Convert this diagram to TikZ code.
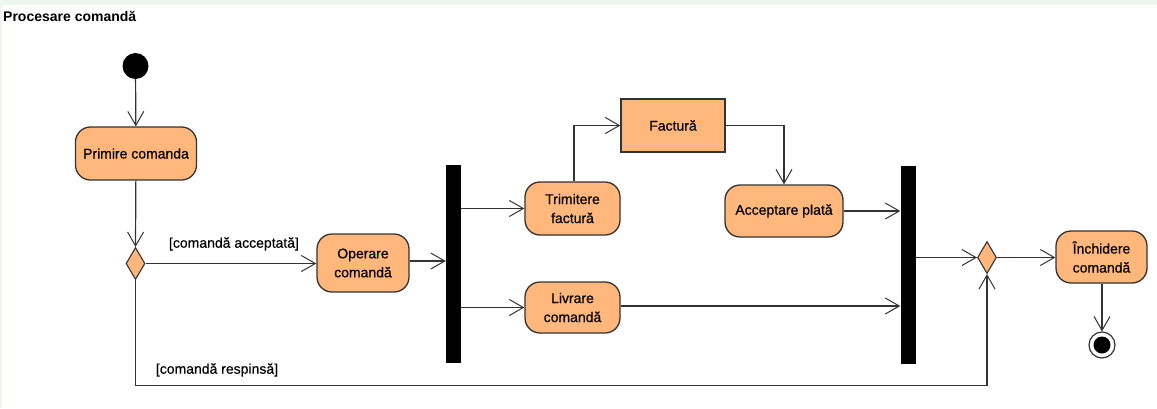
\documentclass[tikz,border=0pt]{standalone}
\usepackage{fontspec}
\setmainfont{Liberation Sans}
\newfontfamily\nodefont{Liberation Sans}[FakeBold=0.4]
\usetikzlibrary{arrows.meta,shapes.geometric}
\definecolor{actfill}{HTML}{FFB77B}
\definecolor{edgecol}{HTML}{333333}
\definecolor{framegreen}{HTML}{EDF7EE}
\tikzset{
  x=1pt, y=-1pt,
  act/.style={draw=edgecol, line width=1.3pt, fill=actfill, rounded corners=15pt,
    align=center, inner sep=0pt, font=\nodefont\fontsize{14}{19}\selectfont},
  objbox/.style={draw=edgecol, line width=1.3pt, fill=actfill, inner sep=0pt,
    font=\nodefont\fontsize{14}{19}\selectfont},
  bar/.style={fill=black, draw=none, inner sep=0pt, minimum width=15pt, minimum height=198pt},
  dec/.style={diamond, draw=edgecol, line width=1.1pt, fill=actfill, inner sep=0pt,
    minimum width=19pt, minimum height=32pt},
  flow/.style={draw=edgecol, line width=1.2pt, -{Straight Barb[length=14pt,width=16pt,line width=1pt]}},
  guard/.style={inner sep=0pt, font=\nodefont\fontsize{14}{17}\selectfont}
}
\begin{document}
\begin{tikzpicture}
\useasboundingbox (0,0) rectangle (1157,408);
\fill[white] (0,0) rectangle (1157,408);
\fill[framegreen] (0,0) rectangle (1157,5);
\fill[framegreen] (0,0) rectangle (1.5,408);
\node[anchor=west, inner sep=0pt, font=\bfseries\fontsize{14}{16}\selectfont] (title) at (3,16) {Procesare comandă};

\node[circle, fill=black, minimum size=26pt, inner sep=0pt] (start) at (135.5,66) {};
\node[act, minimum width=121pt, minimum height=53pt] (prim) at (136,153.5) {Primire comanda};
\node[dec] (d1) at (135.5,263.5) {};
\node[act, minimum width=92pt, minimum height=58pt] (op) at (363,263) {Operare\\comandă};
\node[bar] (b1) at (453.5,264) {};
\node[act, minimum width=95pt, minimum height=53pt] (trim) at (572.5,208.5) {Trimitere\\factură};
\node[act, minimum width=95pt, minimum height=51pt] (livr) at (572.5,307.5) {Livrare\\comandă};
\node[objbox, minimum width=104pt, minimum height=53pt] (fact) at (673,125.5) {Factură};
\node[act, minimum width=118pt, minimum height=52pt] (acc) at (784,211) {Acceptare plată};
\node[bar] (b2) at (908,265) {};
\node[dec] (d2) at (987,257.5) {};
\node[act, minimum width=91pt, minimum height=52pt] (inch) at (1101.5,257) {Închidere\\comandă};
\node[circle, draw=edgecol, line width=1.2pt, fill=white, minimum size=26pt, inner sep=0pt] (end) at (1102,345) {};
\node[circle, fill=black, minimum size=17pt, inner sep=0pt] (endin) at (end.center) {};

\node[guard] (lacc) at (234,244) {[comandă acceptată]};
\node[guard] (lrej) at (217,370) {[comandă respinsă]};

\draw[flow] (start) -- (prim);
\draw[flow] (prim) -- (d1.north);
\draw[flow] (d1.east) -- (op.west |- d1.east);
\draw[flow] (op.east |- 0,261) -- (b1.west |- 0,261);
\draw[flow] (b1.east |- trim.west) -- (trim.west);
\draw[flow] (b1.east |- livr.west) -- (livr.west);
\draw[flow] (trim.north -| 574,0) |- (fact.west);
\draw[flow] (fact.east) -| (acc.north);
\draw[flow] (acc.east) -- (b2.west |- acc.east);
\draw[flow] (livr.east |- 0,306) -- (b2.west |- 0,306);
\draw[flow] (b2.east |- d2.west) -- (d2.west);
\draw[flow] (d2.east) -- (inch.west |- d2.east);
\draw[flow] (inch.south -| end.north) -- (end.north);
\coordinate (rejL) at (d1.south |- 0,385.5);
\draw[flow] (d1.south) -- (rejL) -| (d2.south);
\end{tikzpicture}
\end{document}
